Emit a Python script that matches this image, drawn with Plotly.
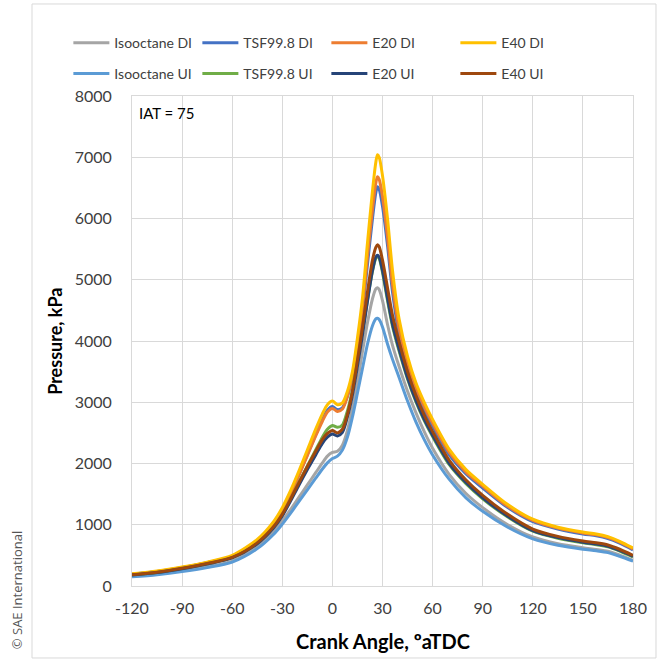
import plotly.graph_objects as go

crank_angle = [-120, -105, -90, -75, -60, -45, -35, -30, -25, -20,
               -15, -10, -6, -3, 0, 3, 6, 9, 12, 15,
               18, 21, 24, 26, 27, 28, 30, 33, 36, 40,
               45, 50, 55, 60, 70, 80, 90, 105, 120, 135,
               150, 158, 165, 172, 180]

isooctane_di = [160, 195, 248, 315, 405, 640, 890, 1060, 1250, 1450,
                1650, 1850, 2010, 2120, 2180, 2200, 2300, 2540, 2900, 3330,
                3830, 4300, 4690, 4850, 4870, 4840, 4660, 4270, 3930, 3580,
                3180, 2830, 2520, 2250, 1820, 1510, 1280, 1000, 800, 690,
                625, 598, 568, 505, 420]

tsf_di = [190, 235, 300, 380, 485, 735, 1025, 1235, 1510, 1820,
          2150, 2470, 2720, 2870, 2930, 2880, 2910, 3100, 3400, 3900,
          4480, 5250, 6000, 6420, 6520, 6480, 6200, 5560, 4800, 4100,
          3570, 3170, 2870, 2610, 2140, 1830, 1600, 1280, 1050, 930,
          850, 820, 775, 700, 590]

e20_di = [192, 238, 302, 382, 488, 740, 1030, 1240, 1510, 1810,
          2130, 2450, 2690, 2840, 2900, 2850, 2890, 3100, 3430, 3950,
          4560, 5380, 6150, 6580, 6680, 6640, 6360, 5700, 4920, 4200,
          3650, 3240, 2930, 2660, 2180, 1860, 1630, 1300, 1070, 945,
          865, 835, 790, 715, 605]

e40_di = [200, 245, 310, 390, 500, 760, 1060, 1280, 1560, 1880,
          2220, 2560, 2810, 2960, 3020, 2960, 2990, 3180, 3500, 4050,
          4700, 5600, 6450, 6920, 7040, 7000, 6700, 6000, 5150, 4350,
          3750, 3320, 3000, 2720, 2230, 1900, 1660, 1330, 1090, 960,
          880, 850, 805, 730, 620]

isooctane_ui = [150, 185, 235, 300, 390, 610, 850, 1010, 1190, 1380,
                1570, 1760, 1910, 2010, 2080, 2120, 2220, 2430, 2760, 3150,
                3550, 3950, 4250, 4360, 4370, 4350, 4230, 3950, 3700, 3400,
                3020, 2680, 2390, 2140, 1740, 1440, 1220, 960, 770, 665,
                600, 575, 545, 485, 405]

tsf_ui = [182, 222, 286, 364, 462, 698, 968, 1162, 1415, 1690,
          1960, 2220, 2430, 2560, 2620, 2590, 2630, 2860, 3200, 3650,
          4140, 4670, 5140, 5350, 5380, 5350, 5120, 4660, 4240, 3830,
          3380, 3010, 2700, 2440, 1980, 1670, 1425, 1125, 895, 780,
          705, 675, 640, 570, 475]

e20_ui = [180, 220, 283, 360, 458, 690, 955, 1145, 1390, 1650,
          1900, 2140, 2330, 2430, 2480, 2450, 2510, 2760, 3120, 3590,
          4100, 4650, 5150, 5370, 5400, 5370, 5150, 4700, 4270, 3860,
          3400, 3030, 2720, 2460, 2000, 1690, 1440, 1140, 905, 790,
          715, 685, 650, 580, 485]

e40_ui = [185, 225, 290, 368, 468, 705, 975, 1170, 1420, 1690,
          1950, 2200, 2390, 2490, 2540, 2500, 2560, 2800, 3180, 3680,
          4220, 4800, 5320, 5530, 5570, 5540, 5320, 4870, 4420, 3980,
          3500, 3110, 2790, 2520, 2050, 1730, 1480, 1170, 930, 810,
          735, 705, 670, 600, 500]

x_ticks = [-120, -90, -60, -30, 0, 30, 60, 90, 120, 150, 180]
y_ticks = [0, 1000, 2000, 3000, 4000, 5000, 6000, 7000, 8000]

series = [
    ("Isooctane DI", isooctane_di, "#A5A5A5", "legend"),
    ("TSF99.8 DI", tsf_di, "#4472C4", "legend"),
    ("E20 DI", e20_di, "#ED7D31", "legend"),
    ("E40 DI", e40_di, "#FFC000", "legend"),
    ("Isooctane UI", isooctane_ui, "#5B9BD5", "legend2"),
    ("TSF99.8 UI", tsf_ui, "#70AD47", "legend2"),
    ("E20 UI", e20_ui, "#264478", "legend2"),
    ("E40 UI", e40_ui, "#9E480E", "legend2"),
]

fig = go.Figure()
for name, vals, color, lg in series:
    fig.add_trace(go.Scatter(
        x=crank_angle, y=vals, name=name, mode="lines",
        line=dict(color=color, width=3, shape="spline", smoothing=0.8),
        legend=lg,
    ))

FONT = "Lato, 'Open Sans', sans-serif"
grid = "#D9D9D9"
tickcol = "#404040"

legend_common = dict(
    orientation="h", xanchor="left", yanchor="middle",
    font=dict(family=FONT, size=14, color=tickcol),
    entrywidth=78, entrywidthmode="pixels",
    bgcolor="rgba(0,0,0,0)", itemwidth=36, traceorder="normal",
)

fig.update_layout(
    width=658, height=662,
    margin=dict(l=132, r=25, t=96, b=76),
    paper_bgcolor="white", plot_bgcolor="white",
    font=dict(family=FONT, size=15, color=tickcol),
    showlegend=True,
    legend=dict(x=-0.127, y=1.108, **legend_common),
    legend2=dict(x=-0.127, y=1.045, **legend_common),
    xaxis=dict(
        range=[-120, 180], tickvals=x_ticks, ticktext=[str(v) for v in x_ticks],
        showgrid=True, gridcolor=grid, gridwidth=1,
        showline=True, linecolor=grid, mirror=True, zeroline=False,
        ticks="", ticklabelstandoff=8,
        tickfont=dict(family=FONT, size=16, color=tickcol),
    ),
    yaxis=dict(
        range=[0, 8000], tickvals=y_ticks, ticktext=[str(v) for v in y_ticks],
        showgrid=True, gridcolor=grid, gridwidth=1,
        showline=True, linecolor=grid, mirror=True, zeroline=False,
        ticks="", ticklabelstandoff=16,
        tickfont=dict(family=FONT, size=16, color=tickcol),
    ),
    annotations=[
        dict(text="IAT = 75", x=0.01, y=0.965, xref="paper", yref="paper",
             xanchor="left", yanchor="middle", showarrow=False,
             font=dict(family=FONT, size=15, color="#000000")),
        dict(text="<b>Crank Angle, ºaTDC</b>", x=0.5, y=-0.112, xref="paper", yref="paper",
             xanchor="center", yanchor="middle", showarrow=False,
             font=dict(family=FONT, size=20, color="#000000")),
        dict(text="<b>Pressure, kPa</b>", x=-0.154, y=0.5, xref="paper", yref="paper",
             xanchor="center", yanchor="middle", showarrow=False, textangle=-90,
             font=dict(family=FONT, size=18, color="#000000")),
        dict(text="© SAE International", x=-0.229, y=-0.008, xref="paper", yref="paper",
             xanchor="center", yanchor="middle", showarrow=False, textangle=-90,
             font=dict(family="'Open Sans', sans-serif", size=13, color="#555555")),
    ],
    shapes=[
        dict(type="rect", xref="paper", yref="paper",
             x0=-0.1996, x1=1.0459, y0=-0.1469, y1=1.1878,
             line=dict(color=grid, width=1), fillcolor="rgba(0,0,0,0)", layer="below"),
    ],
)

fig.write_html("out.html")
